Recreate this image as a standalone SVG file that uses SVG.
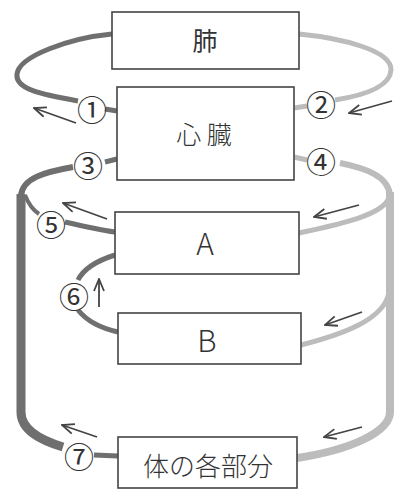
<svg xmlns="http://www.w3.org/2000/svg" width="397" height="492" viewBox="0 0 397 492">
<style>
.box{fill:#fff;stroke:#444;stroke-width:1.6}
.lbl{font-family:"Noto Sans CJK JP","Noto Sans",sans-serif;fill:#333;text-anchor:middle}
.num{font-family:"Noto Sans CJK JP",sans-serif;font-size:30px;fill:#333;text-anchor:middle;dominant-baseline:central}
.dark{fill:none;stroke:#6f6f6f;stroke-linecap:butt}
.light{fill:none;stroke:#bcbcbc;stroke-linecap:butt}
.arr{fill:none;stroke:#444;stroke-width:1.8;marker-end:url(#ah)}
</style>
<defs>
<marker id="ah" markerUnits="userSpaceOnUse" viewBox="0 0 14 12" markerWidth="14" markerHeight="12" refX="13" refY="6" orient="auto">
<path d="M1,1 L13,6 L1,11" fill="none" stroke="#444" stroke-width="1.8"/>
</marker>
<linearGradient id="gL1" gradientUnits="userSpaceOnUse" x1="60" y1="0" x2="112" y2="0"><stop offset="0" stop-color="#6f6f6f"/><stop offset="1" stop-color="#bbb"/></linearGradient>
<linearGradient id="gL5" gradientUnits="userSpaceOnUse" x1="65" y1="0" x2="115" y2="0"><stop offset="0" stop-color="#6f6f6f"/><stop offset="0.6" stop-color="#7a7a7a"/><stop offset="1" stop-color="#d0d0d0"/></linearGradient>
<linearGradient id="gL6a" gradientUnits="userSpaceOnUse" x1="78" y1="0" x2="115" y2="0"><stop offset="0" stop-color="#6f6f6f"/><stop offset="1" stop-color="#d0d0d0"/></linearGradient>
<linearGradient id="gL6b" gradientUnits="userSpaceOnUse" x1="78" y1="0" x2="118" y2="0"><stop offset="0" stop-color="#6f6f6f"/><stop offset="1" stop-color="#d0d0d0"/></linearGradient>
<linearGradient id="gL7" gradientUnits="userSpaceOnUse" x1="94" y1="0" x2="118" y2="0"><stop offset="0" stop-color="#aaa"/><stop offset="1" stop-color="#ddd"/></linearGradient>
<linearGradient id="gR" gradientUnits="userSpaceOnUse" x1="297" y1="0" x2="340" y2="0"><stop offset="0" stop-color="#e0e0e0"/><stop offset="1" stop-color="#bcbcbc"/></linearGradient>
</defs>

<g id="connectors">
<!-- pulmonary artery (1) -->
<path class="dark" stroke="url(#gL1)" stroke-width="5" d="M78,101 C45,95 15,90 17,74 C19,56 70,38 112,34"/>
<path class="dark" stroke-width="5" d="M105,109 L117,111"/>
<!-- aorta (3) -->
<path class="dark" stroke-width="5" d="M105,162 L117,159"/>
<path class="dark" stroke-width="6" d="M73,167 C45,172 22,178 21,196"/>
<path class="dark" stroke-width="9" d="M21,194 L21,412 C21,430 40,440 63,447"/>
<!-- (5) -->
<path class="dark" stroke="url(#gL5)" stroke-width="5" d="M65,222 C82,226 100,230 115,232"/>
<path class="dark" stroke-width="4" d="M39,214 Q30,208 25,195"/>
<!-- (6) -->
<path class="dark" stroke="url(#gL6a)" stroke-width="5" d="M115,255 C96,261 83,270 78,280"/>
<path class="dark" stroke="url(#gL6b)" stroke-width="5" d="M78,310 C86,320 100,328 118,332"/>
<!-- (7) -->
<path class="dark" stroke="url(#gL7)" stroke-width="5" d="M94,455 L118,456"/>
<!-- pulmonary vein (2) -->
<path class="light" stroke-width="5" d="M299,34 C340,38 392,50 391,70 C390,88 360,96 335,100"/>
<path class="light" stroke="url(#gR)" stroke-width="5" d="M294,108 L307,106"/>
<!-- vena cava (4) -->
<path class="light" stroke="url(#gR)" stroke-width="5" d="M294,157 L307,160"/>
<path class="light" stroke-width="6" d="M340,163 C365,168 389,176 390,196"/>
<path class="light" stroke-width="8" d="M390,192 L390,412 C390,432 350,450 297,458"/>
<path class="light" stroke-width="5" d="M389,198 C382,216 335,225 299,233"/>
<path class="light" stroke-width="5" d="M389,292 C385,320 340,335 301,345"/>
<!-- arrows -->
<path class="arr" d="M76,123 L34,108"/>
<path class="arr" d="M392,101 L349,113"/>
<path class="arr" d="M107,219 L63,203"/>
<path class="arr" d="M99,307 L99,279"/>
<path class="arr" d="M97,437 L62,425"/>
<path class="arr" d="M359,205 L314,217"/>
<path class="arr" d="M362,312 L325,325"/>
<path class="arr" d="M362,427 L324,437"/>
</g>

<g id="lung"><rect class="box" x="112" y="12" width="187" height="57"/><text class="lbl" x="205" y="50" font-size="25">肺</text></g>
<g id="heart"><rect class="box" x="117" y="87" width="177" height="93"/><text class="lbl" x="204" y="144" font-size="25" font-weight="300">心 臓</text></g>
<g id="A"><rect class="box" x="115" y="212" width="184" height="62"/><text class="lbl" x="205" y="255" font-size="30" font-weight="300">A</text></g>
<g id="B"><rect class="box" x="118" y="313" width="183" height="51"/><text class="lbl" x="207" y="352" font-size="30" font-weight="300">B</text></g>
<g id="body"><rect class="box" x="118" y="437" width="179" height="51"/><text class="lbl" x="208" y="476" font-size="26" font-weight="300">体の各部分</text></g>

<g id="labels">
<text class="num" x="92" y="108">①</text>
<text class="num" x="321" y="103">②</text>
<text class="num" x="88" y="164">③</text>
<text class="num" x="321" y="160">④</text>
<text class="num" x="51" y="223">⑤</text>
<text class="num" x="74" y="295">⑥</text>
<text class="num" x="79" y="455">⑦</text>
</g>
</svg>
